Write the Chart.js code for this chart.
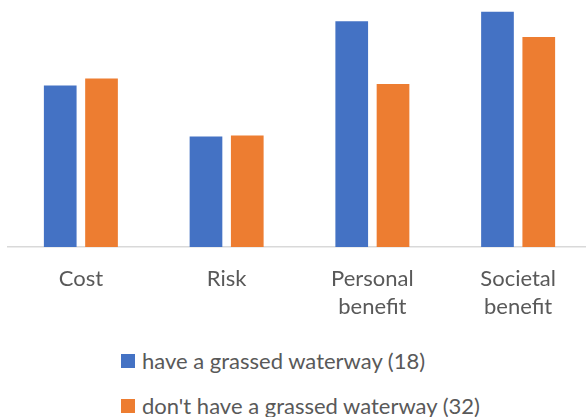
<!DOCTYPE html>
<html>
<head>
<meta charset="utf-8">
<script src="https://cdn.jsdelivr.net/npm/chart.js@4"></script>
<style>
  html, body { margin: 0; padding: 0; background: #fff; overflow: hidden; width: 586px; height: 417px; }
  #wrap { position: absolute; left: 0; top: 0; width: 600px; height: 339px; }
  #legend { position: absolute; left: 121px; top: 0; font-family: Lato, "Open Sans", sans-serif; font-size: 22px; color: #595959; }
  .item { position: absolute; left: 0; white-space: nowrap; display: flex; align-items: center; line-height: 26px; }
  .box { width: 14px; height: 14px; margin-right: 7px; flex: none; }
</style>
</head>
<body>
<div id="wrap"><canvas id="c" width="600" height="339"></canvas></div>
<div id="legend"></div>
<script>
const categories = [["Cost"], ["Risk"], ["Personal", "benefit"], ["Societal", "benefit"]];
const seriesNames = ["have a grassed waterway (18)", "don't have a grassed waterway (32)"];
const haveValues = [3.27, 2.24, 4.57, 4.76];
const dontHaveValues = [3.41, 2.26, 3.30, 4.25];
const seriesColors = ["#4472C4", "#ED7D31"];

const ctx = document.getElementById('c').getContext('2d');
new Chart(ctx, {
  type: 'bar',
  data: {
    labels: categories,
    datasets: [
      { label: seriesNames[0], data: haveValues, backgroundColor: seriesColors[0], categoryPercentage: 0.5665, barPercentage: 0.792 },
      { label: seriesNames[1], data: dontHaveValues, backgroundColor: seriesColors[1], categoryPercentage: 0.5665, barPercentage: 0.792 }
    ]
  },
  options: {
    responsive: false,
    animation: false,
    layout: { padding: { left: 8, right: 9, top: 0, bottom: 0 } },
    plugins: { legend: { display: false }, tooltip: { enabled: false } },
    scales: {
      y: { display: false, min: 0, max: 5 },
      x: {
        grid: { display: false, drawTicks: false },
        border: { display: true, color: '#d9d9d9', width: 1.5 },
        ticks: { color: '#595959', padding: 18, font: { family: 'Lato', size: 22, lineHeight: 1.27 }, maxRotation: 0, autoSkip: false }
      }
    }
  }
});

const legend = document.getElementById('legend');
const tops = [348, 393];
seriesNames.forEach((name, i) => {
  const it = document.createElement('div');
  it.className = 'item';
  it.style.top = tops[i] + 'px';
  const b = document.createElement('span');
  b.className = 'box';
  b.style.background = seriesColors[i];
  const t = document.createElement('span');
  t.textContent = name;
  it.appendChild(b); it.appendChild(t);
  legend.appendChild(it);
});
</script>
</body>
</html>
